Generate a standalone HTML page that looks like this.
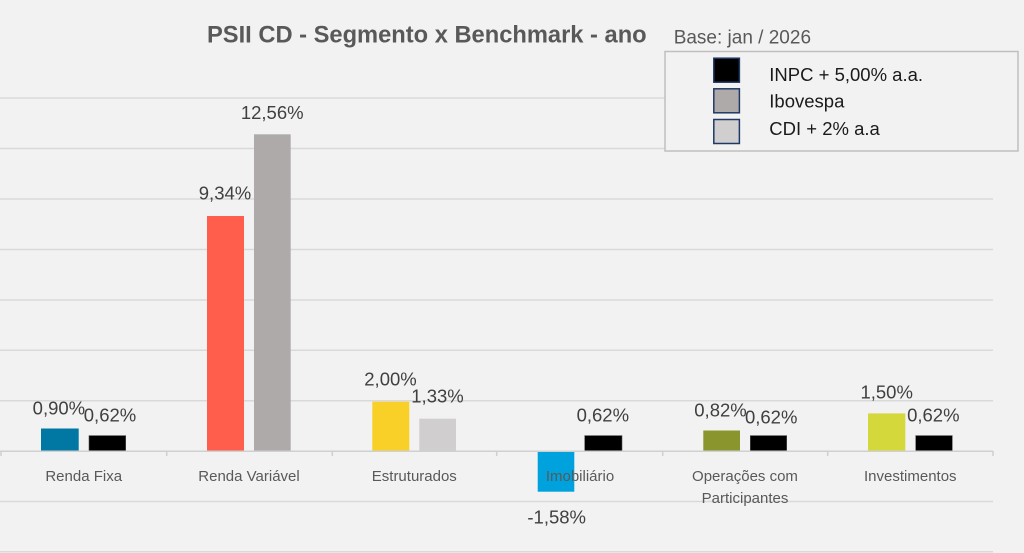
<!DOCTYPE html>
<html>
<head>
<meta charset="utf-8">
<style>
html,body{margin:0;padding:0;background:#F2F2F2;}
svg{display:block;}
text{font-family:"Liberation Sans",sans-serif;}
</style>
</head>
<body>
<svg width="1024" height="553" viewBox="0 0 1024 553" xmlns="http://www.w3.org/2000/svg">
<rect x="0" y="0" width="1024" height="553" fill="#F2F2F2"/>
<!-- gridlines -->
<g stroke="#D9D9D9" stroke-width="1.5">
<line x1="0" y1="98" x2="993" y2="98"/>
<line x1="0" y1="148.5" x2="993" y2="148.5"/>
<line x1="0" y1="199" x2="993" y2="199"/>
<line x1="0" y1="249.5" x2="993" y2="249.5"/>
<line x1="0" y1="300" x2="993" y2="300"/>
<line x1="0" y1="350.3" x2="993" y2="350.3"/>
<line x1="0" y1="400.8" x2="993" y2="400.8"/>
<line x1="0" y1="501.5" x2="993" y2="501.5"/>
<line x1="0" y1="551.8" x2="993" y2="551.8"/>
</g>
<!-- bars -->
<rect x="41" y="428.5" width="37.7" height="22.7" fill="#0078A3"/>
<rect x="89" y="435.6" width="36.7" height="15.6" fill="#000" stroke="#555" stroke-width="0.6"/>
<rect x="207" y="216" width="37" height="235.2" fill="#FF5E4D"/>
<rect x="254" y="134.3" width="36.7" height="316.9" fill="#AEAAAA"/>
<rect x="372.3" y="401.7" width="37" height="49.5" fill="#F8D028"/>
<rect x="419.3" y="418.7" width="36.7" height="32.5" fill="#D0CECE"/>
<rect x="537.7" y="451.2" width="36.6" height="40.5" fill="#00A2DE"/>
<rect x="584.7" y="435.6" width="37.3" height="15.6" fill="#000" stroke="#555" stroke-width="0.6"/>
<rect x="703.3" y="430.5" width="36.7" height="20.7" fill="#8B952E"/>
<rect x="750.3" y="435.6" width="36.4" height="15.6" fill="#000" stroke="#555" stroke-width="0.6"/>
<rect x="868" y="413.4" width="37.3" height="37.8" fill="#D4D83B"/>
<rect x="915.7" y="435.6" width="36.6" height="15.6" fill="#000" stroke="#555" stroke-width="0.6"/>
<!-- axis -->
<g stroke="#D0D0D0" stroke-width="1.5">
<line x1="0" y1="451.2" x2="993" y2="451.2"/>
<line x1="1" y1="451" x2="1" y2="456"/>
<line x1="166.7" y1="451" x2="166.7" y2="456"/>
<line x1="332.3" y1="451" x2="332.3" y2="456"/>
<line x1="496.7" y1="451" x2="496.7" y2="456"/>
<line x1="662.7" y1="451" x2="662.7" y2="456"/>
<line x1="827.7" y1="451" x2="827.7" y2="456"/>
<line x1="993" y1="451" x2="993" y2="456"/>
</g>
<!-- category labels -->
<g font-size="15" fill="#595959" text-anchor="middle">
<text x="83.7" y="481">Renda Fixa</text>
<text x="249" y="481">Renda Variável</text>
<text x="414.3" y="481">Estruturados</text>
<text x="580" y="481">Imobiliário</text>
<text x="745" y="481">Operações com</text>
<text x="745" y="503">Participantes</text>
<text x="910.3" y="481">Investimentos</text>
</g>
<!-- data labels -->
<g font-size="18.5" fill="#404040" text-anchor="middle">
<text x="58.9" y="414.3">0,90%</text>
<text x="110" y="421.7">0,62%</text>
<text x="225" y="199.3">9,34%</text>
<text x="272.2" y="119">12,56%</text>
<text x="390.5" y="385.7">2,00%</text>
<text x="437.5" y="402.3">1,33%</text>
<text x="602.8" y="421.7">0,62%</text>
<text x="556.7" y="523.3">-1,58%</text>
<text x="720.5" y="416.7">0,82%</text>
<text x="771.2" y="423.3">0,62%</text>
<text x="886.7" y="398.3">1,50%</text>
<text x="933.3" y="421.7">0,62%</text>
</g>
<!-- title -->
<text x="207" y="42.7" font-size="23.7" font-weight="bold" fill="#595959">PSII CD - Segmento x Benchmark - ano</text>
<text x="673.7" y="43.3" font-size="19" fill="#595959">Base: jan / 2026</text>
<!-- legend -->
<rect x="665" y="51.5" width="353" height="99.5" fill="#F2F2F2" stroke="#BFBFBF" stroke-width="1.5"/>
<rect x="713.8" y="58.2" width="25.6" height="24" fill="#000" stroke="#1F3864" stroke-width="1.5"/>
<rect x="713.8" y="88.8" width="25.6" height="24" fill="#AEAAAA" stroke="#1F3864" stroke-width="1.5"/>
<rect x="713.8" y="119.5" width="25.6" height="24" fill="#D0CECE" stroke="#1F3864" stroke-width="1.5"/>
<g font-size="18.5" fill="#1A1A1A">
<text x="769.3" y="81">INPC + 5,00% a.a.</text>
<text x="769.3" y="107.7">Ibovespa</text>
<text x="769.3" y="135">CDI + 2% a.a</text>
</g>
</svg>
</body>
</html>
